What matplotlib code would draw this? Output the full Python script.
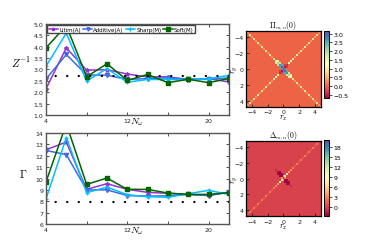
import numpy as np
import matplotlib
matplotlib.use("Agg")
import matplotlib.pyplot as plt

plt.rcParams['mathtext.fontset'] = 'cm'

# --- line data (N_omega scan) ---
N_w = [4, 6, 8, 10, 12, 14, 16, 18, 20, 22]

Z_litim = [2.15, 3.95, 2.97, 2.99, 2.80, 2.67, 2.68, 2.55, 2.60, 2.45]
Z_additive = [2.58, 3.66, 2.76, 2.75, 2.56, 2.60, 2.63, 2.58, 2.56, 2.63]
Z_sharp = [3.14, 4.60, 2.49, 3.04, 2.44, 2.56, 2.56, 2.55, 2.59, 2.74]
Z_soft = [3.95, 4.93, 2.68, 3.25, 2.52, 2.78, 2.42, 2.57, 2.42, 2.60]
Z_ref = 2.73

G_litim = [12.53, 13.20, 9.05, 9.54, 9.05, 8.78, 8.70, 8.60, 8.52, 8.80]
G_additive = [12.47, 12.10, 9.00, 9.00, 8.50, 8.45, 8.48, 8.60, 8.50, 8.80]
G_sharp = [8.20, 13.60, 8.75, 9.25, 8.57, 8.40, 8.35, 8.66, 8.96, 8.60]
G_soft = [9.70, 14.80, 9.48, 10.04, 9.05, 9.04, 8.72, 8.60, 8.60, 8.75]
G_ref = 7.95

labels = ['Litim(A)', 'Additive(A)', 'Sharp(M)', 'Soft(M)']
colors = ['#9932cc', '#4169e1', '#00bfff', '#006400']
markers = ['*', 'v', '+', 's']

# --- heatmap data (lattice with spacing 0.25) ---
r = np.arange(-4.75, 4.76, 0.25)
n = len(r)
c = n // 2

# Pi: both diagonals (alternating bright / dim), blob in the centre
pi_diag = [0.9, 0.3]
pi_patch = [
    [1.3, 1.0, 0.0, 0.0, 0.0, 0.0, 0.0, 0.0, 1.0],
    [1.0, 2.0, 1.8, 0.0, 0.0, 0.0, 0.0, 1.4, 0.0],
    [0.0, 1.8, 2.7, 2.5, 0.0, -0.3, -0.4, 0.0, 0.0],
    [0.0, 0.0, 2.5, 3.0, 2.6, -0.55, -0.3, 0.0, 0.0],
    [0.0, 0.0, 0.0, 2.6, 3.15, 2.6, 0.0, 0.0, 0.0],
    [0.0, 0.0, -0.3, -0.55, 2.6, 3.0, 2.5, 0.0, 0.0],
    [0.0, 0.0, -0.4, -0.3, 0.0, 2.5, 2.7, 1.8, 0.0],
    [0.0, 1.4, 0.0, 0.0, 0.0, 0.0, 1.8, 2.0, 1.0],
    [1.0, 0.0, 0.0, 0.0, 0.0, 0.0, 0.0, 1.0, 1.3],
]
pi_range = [-0.7, 3.15]

# Delta: one diagonal (y = -x), strong peak in the centre, negative lobes
d_diag = [2.8, 1.2]
d_patch = [
    [-1.0, 0.0, 0.0, 0.0, 0.0, 0.0, 0.0, 0.0, 3.0],
    [0.0, -2.0, -2.2, 0.0, 0.0, 0.0, 0.0, 4.0, 0.0],
    [0.0, -2.2, -2.5, -2.5, 0.0, 0.0, 8.0, 0.0, 0.0],
    [0.0, 0.0, -2.5, -2.5, 3.0, 12.0, 0.0, 0.0, 0.0],
    [0.0, 0.0, 0.0, 3.0, 20.2, 3.0, 0.0, 0.0, 0.0],
    [0.0, 0.0, 0.0, 12.0, 3.0, -2.5, -2.5, 0.0, 0.0],
    [0.0, 0.0, 8.0, 0.0, 0.0, -2.5, -2.5, -2.2, 0.0],
    [0.0, 4.0, 0.0, 0.0, 0.0, 0.0, -2.2, -2.0, 0.0],
    [3.0, 0.0, 0.0, 0.0, 0.0, 0.0, 0.0, 0.0, -1.0],
]
d_range = [-2.5, 20.2]

Pi = np.zeros((n, n))
Delta = np.zeros((n, n))
for i in range(n):
    Pi[i, i] = pi_diag[i % 2]
    Pi[i, n - 1 - i] = pi_diag[i % 2]
    Delta[i, n - 1 - i] = d_diag[i % 2]
Pi[c - 4:c + 5, c - 4:c + 5] = np.array(pi_patch)
Delta[c - 4:c + 5, c - 4:c + 5] = np.array(d_patch)

fig = plt.figure(figsize=(3.65, 2.51), dpi=100)

ax1 = fig.add_axes([0.126, 0.538, 0.501, 0.3625])
ax2 = fig.add_axes([0.126, 0.1036, 0.501, 0.3625])

dot_style = dict(color='k', lw=1.6, ls=(0.9, (0.1, 5.1)), dash_capstyle='round')

for ax, series, ref, ylab in [(ax1, [Z_litim, Z_additive, Z_sharp, Z_soft], Z_ref, r'$Z^{-1}$'),
                              (ax2, [G_litim, G_additive, G_sharp, G_soft], G_ref, r'$\Gamma$')]:
    for y, lab, col, mk in zip(series, labels, colors, markers):
        ax.plot(N_w, y, color=col, marker=mk, ms=3, mew=1, lw=1.1, label=lab)
    ax.plot([N_w[0], N_w[-1]], [ref, ref], **dot_style)
    ax.set_xlim(4, 22)
    ax.set_xticks([4, 8, 12, 16, 20])
    ax.set_xticklabels(['4', '', '12', '', '20'])
    ax.tick_params(direction='in', top=True, right=True, labelsize=4.5,
                   length=2.5, width=0.6, pad=2, colors='#333333', labelcolor='#222222')
    for s in ax.spines.values():
        s.set_linewidth(1.0)
        s.set_color('#555555')
    ax.set_xlabel(r'$N_\omega$', fontsize=7)
    ax.xaxis.set_label_coords(0.5, -0.005, transform=ax.transAxes)
    ax.xaxis.label.set_verticalalignment('top')
    ax.xaxis.label.set_horizontalalignment('center')
    ax.set_ylabel(ylab, fontsize=8, rotation=0, labelpad=9)

ax1.set_ylim(1, 5)
ax1.set_yticks(np.arange(1.0, 5.01, 0.5))
ax1.yaxis.set_major_formatter(matplotlib.ticker.FormatStrFormatter('%.1f'))
ax2.set_ylim(6, 14)
ax2.set_yticks(range(6, 15))

ax1.legend(loc='upper left', ncol=4, fontsize=4.0, handlelength=1.7, handletextpad=0.2,
           columnspacing=0.35, borderpad=0.25, borderaxespad=0.25, frameon=True,
           fancybox=False, edgecolor='#444444', framealpha=1, markerscale=0.8)

# --- heatmaps ---
ext = [r[0] - 0.125, r[-1] + 0.125, r[-1] + 0.125, r[0] - 0.125]
h1 = fig.add_axes([0.674, 0.571, 0.2047, 0.300])
h2 = fig.add_axes([0.674, 0.134, 0.2047, 0.301])
cb1 = fig.add_axes([0.888, 0.604, 0.013, 0.269])
cb2 = fig.add_axes([0.888, 0.137, 0.013, 0.301])

for h, cb, data, rng, title, ticks in [
        (h1, cb1, Pi, pi_range, r'$\Pi_{m,n}(0)$', [-0.5, 0, 0.5, 1.0, 1.5, 2.0, 2.5, 3.0]),
        (h2, cb2, Delta, d_range, r'$\Delta_{m,n}(0)$', [0, 3, 6, 9, 12, 15, 18])]:
    im = h.imshow(data, cmap='Spectral', extent=ext, interpolation='nearest', aspect='auto',
                  vmin=rng[0], vmax=rng[1])
    h.set_xlim(-4.75, 4.75)
    h.set_ylim(4.75, -4.75)
    h.set_xticks([-4, -2, 0, 2, 4])
    h.set_yticks([-4, -2, 0, 2, 4])
    h.tick_params(direction='in', labelsize=4.5, length=2, width=0.6, pad=2, colors='#222222')
    h.set_title(title, fontsize=5.5, pad=2)
    h.set_xlabel(r'$r_x$', fontsize=6, labelpad=-1.5)
    h.set_ylabel(r'$r_y$', fontsize=6, labelpad=-4)
    for s in h.spines.values():
        s.set_linewidth(0.9)
    cbar = fig.colorbar(im, cax=cb, ticks=ticks)
    cbar.ax.tick_params(labelsize=4.5, length=2, width=0.5, pad=1.5)
    cbar.outline.set_linewidth(0.7)
cb1.set_yticklabels(['\u22120.5', '0.0', '0.5', '1.0', '1.5', '2.0', '2.5', '3.0'])

fig.savefig('out.png', dpi=100)
